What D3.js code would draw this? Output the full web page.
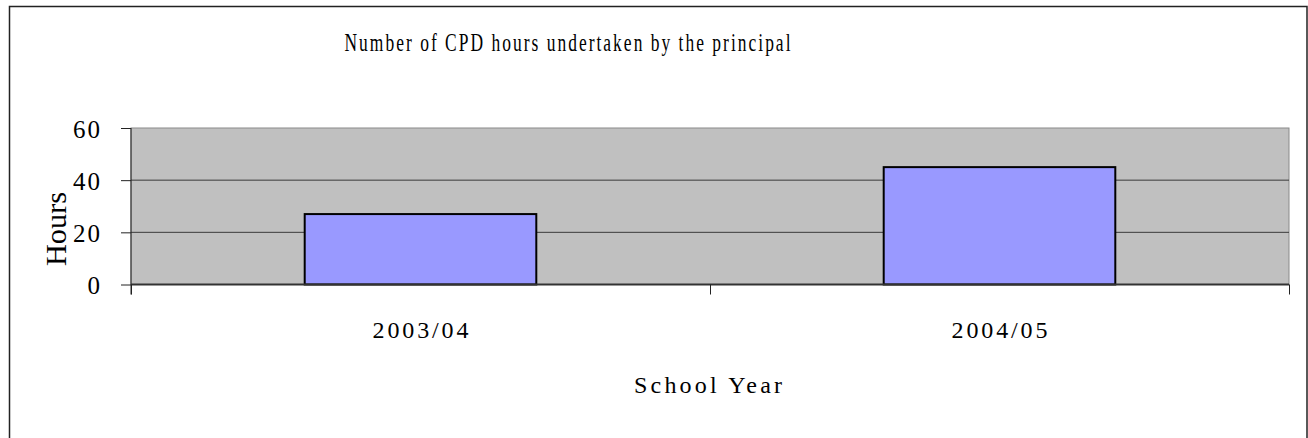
<!DOCTYPE html>
<html>
<head>
<meta charset="utf-8">
<script src="https://cdn.jsdelivr.net/npm/d3@7"></script>
<style>
  body { margin: 0; background: #fff; }
  text { font-family: "Liberation Serif", "Times New Roman", serif; fill: #000; }
</style>
</head>
<body>
<svg></svg>
<script>
// data
const years = ['2003/04', '2004/05']
const hours = [27, 45]
const yTicks = [0, 20, 40, 60]
const title = 'Number of CPD hours undertaken by the principal'
const xTitle = 'School Year'
const yTitle = 'Hours'

const svg = d3.select('svg')
    .attr('width', 1308)
    .attr('height', 438)

// outer frame
svg.append('rect')
    .attr('x', 9.5)
    .attr('y', 6.5)
    .attr('width', 1297.5)
    .attr('height', 440)
    .attr('fill', 'none')
    .attr('stroke', '#222')
    .attr('stroke-width', 1.5)

const plotL = 131, plotR = 1289, plotT = 128, plotB = 284.5

const xScale = d3.scaleBand()
    .domain(years)
    .range([plotL, plotR])
    .paddingInner(0.6)
    .paddingOuter(0.3)

const xEdge = d3.scaleLinear()
    .domain([0, years.length])
    .range([plotL, plotR])

const yScale = d3.scaleLinear()
    .domain([0, 60])
    .range([plotB, plotT])

// plot background
svg.append('rect')
    .attr('x', plotL)
    .attr('y', plotT)
    .attr('width', plotR - plotL)
    .attr('height', plotB - plotT)
    .attr('fill', '#c0c0c0')
    .attr('stroke', '#8a8a8a')
    .attr('stroke-width', 1)

// gridlines
svg.append('g')
    .selectAll('line')
    .data(yTicks.filter(d => d > 0 && d < 60))
    .join('line')
    .attr('x1', plotL)
    .attr('x2', plotR)
    .attr('y1', d => yScale(d))
    .attr('y2', d => yScale(d))
    .attr('stroke', '#3a3a3a')
    .attr('stroke-width', 1)

// bars
svg.append('g')
    .selectAll('rect')
    .data(years)
    .join('rect')
    .attr('x', d => xScale(d))
    .attr('y', (d, i) => yScale(hours[i]))
    .attr('width', xScale.bandwidth())
    .attr('height', (d, i) => plotB - yScale(hours[i]))
    .attr('fill', '#9999ff')
    .attr('stroke', '#000')
    .attr('stroke-width', 2)

// y axis
const yAxis = svg.append('g')
    .attr('transform', `translate(${plotL},0)`)
    .call(d3.axisLeft(yScale).tickValues(yTicks).tickSize(10).tickPadding(19))
yAxis.select('.domain').attr('stroke', '#222').attr('d', `M0,${plotT}V${plotB + 10}`)
yAxis.selectAll('line').attr('stroke', '#222')
yAxis.selectAll('text')
    .attr('font-family', '"Liberation Serif", serif')
    .attr('font-size', 25)
    .attr('letter-spacing', 2)
    .attr('dy', '0.36em')

// x axis ticks at category edges
const xTickAxis = svg.append('g')
    .attr('transform', `translate(0,${plotB})`)
    .call(d3.axisBottom(xEdge).tickValues(d3.range(years.length + 1)).tickFormat('').tickSize(10))
xTickAxis.select('.domain').attr('stroke', '#333').attr('stroke-width', 2).attr('d', `M${plotL},0H${plotR}`)
xTickAxis.selectAll('line').attr('stroke', '#222')

// x labels
const xAxis = svg.append('g')
    .attr('transform', `translate(0,${plotB})`)
    .call(d3.axisBottom(xScale).tickSize(0).tickPadding(0))
xAxis.select('.domain').remove()
xAxis.selectAll('text')
    .attr('font-family', '"Liberation Serif", serif')
    .attr('font-size', 24)
    .attr('dy', null)
    .attr('y', 338 - plotB)
    .attr('textLength', 96)
    .attr('lengthAdjust', 'spacing')

// titles
svg.append('text')
    .attr('x', 568.5)
    .attr('y', 51)
    .attr('text-anchor', 'middle')
    .attr('font-size', 26)
    .attr('letter-spacing', 3)
    .attr('textLength', 448)
    .attr('lengthAdjust', 'spacingAndGlyphs')
    .text(title)

svg.append('text')
    .attr('x', 708)
    .attr('y', 393)
    .attr('text-anchor', 'middle')
    .attr('font-size', 24)
    .attr('textLength', 148)
    .attr('lengthAdjust', 'spacing')
    .text(xTitle)

svg.append('text')
    .attr('transform', 'translate(66,229) rotate(-90)')
    .attr('text-anchor', 'middle')
    .attr('font-size', 30)
    .attr('textLength', 74)
    .attr('lengthAdjust', 'spacingAndGlyphs')
    .text(yTitle)
</script>
</body>
</html>
